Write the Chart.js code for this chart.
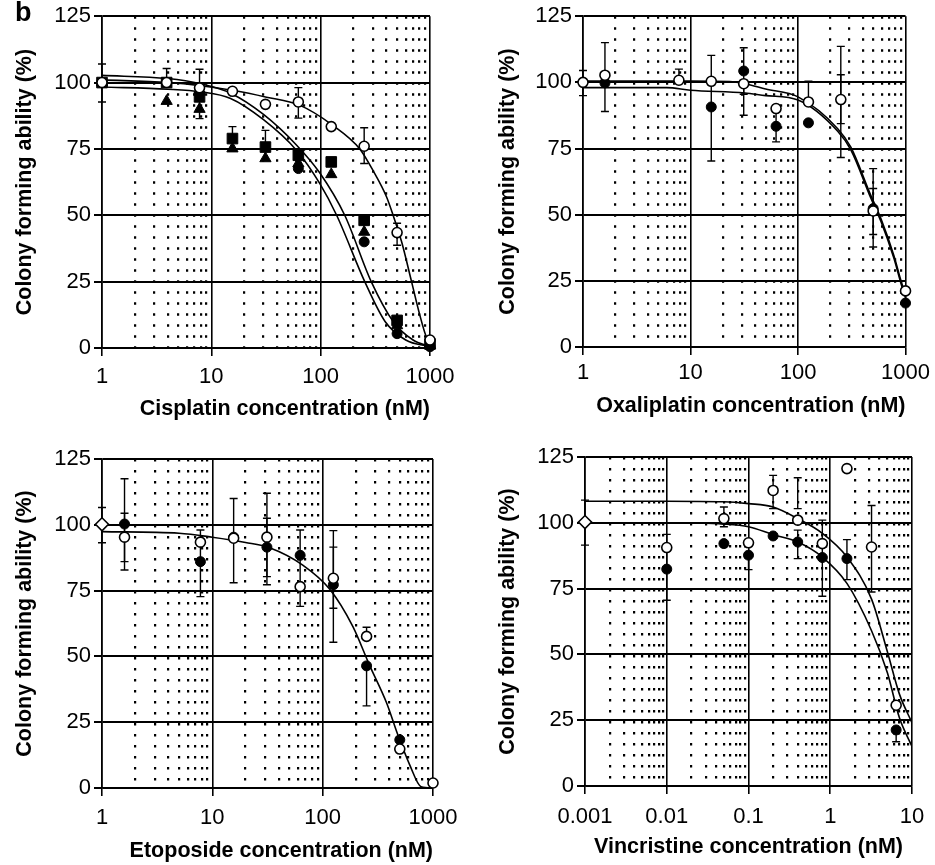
<!DOCTYPE html>
<html>
<head>
<meta charset="utf-8">
<script src="https://cdn.jsdelivr.net/npm/chart.js@4.4.1/dist/chart.umd.min.js"></script>
<style>
  body { margin: 0; background: #fff; }
  #wrap { position: relative; width: 935px; height: 865px; background: #fff; }
  canvas { position: absolute; }
  #tag { position: absolute; left: 15px; top: -3px; font: bold 27px "Liberation Sans", Arial, sans-serif; }
</style>
</head>
<body>
<div id="wrap">
  <canvas id="cis" width="467" height="430" style="left:0;top:0"></canvas>
  <canvas id="oxa" width="468" height="430" style="left:467px;top:0"></canvas>
  <canvas id="eto" width="467" height="435" style="left:0;top:430px"></canvas>
  <canvas id="vin" width="468" height="435" style="left:467px;top:430px"></canvas>
  <div id="tag">b</div>
</div>
<script>
// y axis, shared
const yTicks = [0, 25, 50, 75, 100, 125];

// Cisplatin
const cisDecades = [1, 10, 100, 1000];
const cisLabels = ['1', '10', '100', '1000'];
const cisDose = [1, 3.9, 7.8, 15.6, 31.25, 62.5, 125, 250, 500, 1000];
const cisOpen = [100, 100, 98, 96.7, 91.8, 92.7, 83.4, 76, 43.5, 3];
const cisSquare = [100, 100, 94.6, 78.9, 75.7, 72.6, 70.1, 48.1, 10.4, 1.5];
const cisTriangle = [100, 93, 90, 75.1, 71.4, 69.5, 65.4, 43.7, 8.5, 1];
const cisFilled = [100, 100, 96, null, null, 67.6, null, 40, 5.4, 0.5];
const cisErrors = [[1, 92.7, 107], [3.9, 100, 105.3], [7.8, 86.4, 105], [15.6, 78.9, 83.4],
  [31.25, 75.7, 82], [62.5, 86.6, 98.1], [250, 69.5, 83], [500, 38.7, 47]];
const cisFitADose = [1, 4, 8, 16, 32, 64, 128, 228, 300, 400, 460, 550, 678, 800, 930, 1000];
const cisFitA = [101, 100, 98.8, 97, 94.5, 91.5, 84, 75, 67, 57, 50, 40, 25, 13, 4, 2.5];
const cisFitBDose = [1, 4, 8, 15, 30, 60, 98, 166, 290, 460, 700, 1000];
const cisFitB = [102.7, 101.5, 99.5, 96, 88, 76.5, 66, 50, 25, 10, 3, 0.5];
const cisFitCDose = [1, 4, 8, 15, 30, 60, 98, 140, 253, 388, 600, 1000];
const cisFitC = [98.3, 97.5, 96.5, 94, 86, 74.5, 62, 50, 25, 10, 3, 0.5];

// Oxaliplatin
const oxaDose = [1, 1.6, 7.8, 15.6, 31.25, 62.5, 125, 250, 500, 1000];
const oxaOpen = [100, 102.7, 100.8, 100.4, 99.5, 90.1, 92.6, 93.5, 51.4, 21.2];
const oxaFilled = [null, 99.8, null, 90.7, 104.3, 83.4, 84.7, null, 52.3, 16.6];
const oxaErrors = [[1, 95, 104.5], [1.6, 89, 115], [7.8, 100.8, 105], [15.6, 70.3, 110.2],
  [31.25, 95.5, 113.1], [31.25, 87.6, 99.5], [62.5, 77.5, 90], [125, 92.6, 100.4],
  [250, 71.6, 113.6], [250, 84.4, 102.9], [500, 37.8, 67.4], [500, 42.5, 59.9]];
const oxaFitADose = [1, 10, 23, 32, 50, 100, 234, 310, 473, 590, 780, 900, 1000];
const oxaFitA = [100.5, 100.5, 100.3, 99.5, 97.5, 94.5, 82.5, 75.5, 57.5, 48.5, 34.5, 25.5, 19.5];
const oxaFitBDose = [1, 6, 10, 32, 50, 100, 234, 310, 473, 590, 780, 900, 1000];
const oxaFitB = [98, 98, 97, 96, 95, 93.3, 81.5, 74.5, 56.5, 47.5, 33.5, 24.5, 18.5];

// Etoposide
const etoDose = [1, 1.6, 7.8, 15.6, 31.25, 62.5, 125, 250, 500, 1000];
const etoOpen = [100.2, 95.3, 93.4, 94.9, 95.3, 76.5, 79.7, 57.6, 14.8, 1.9];
const etoFilled = [null, 100.3, 86, 95.3, 91.5, 88.4, 77.2, 46.4, 18.3, null];
const etoErrors = [[1, 93.2, 106.6], [1.6, 82.8, 117.5], [1.6, 86, 104.4], [7.8, 72.7, 98],
  [15.6, 78, 110], [31.25, 77.2, 112], [31.25, 80.3, 102.5], [62.5, 69, 98],
  [125, 55.4, 97.8], [125, 68.3, 91.5], [250, 57.6, 61.1], [250, 31.2, 46.4]];
const etoFitDose = [1, 5, 10, 20, 33, 66, 116, 188, 265, 380, 480, 615, 780, 1000];
const etoFit = [97.4, 96.8, 95.3, 93.3, 91.3, 84.7, 75.5, 61.3, 46.8, 32.3, 20.2, 8.8, 0.5, 0];

// Vincristine
const vinDecades = [0.001, 0.01, 0.1, 1, 10];
const vinLabels = ['0.001', '0.01', '0.1', '1', '10'];
const vinDose = [0.001, 0.01, 0.05, 0.1, 0.2, 0.4, 0.8, 1.6, 3.2, 6.4];
const vinOpen = [100.3, 90.6, 101.6, 92.4, 112.3, 101, 92.1, 120.6, 90.8, 30.7];
const vinFilled = [null, 82.4, 92.1, 87.7, 95, 92.7, 86.8, 86.4, null, 21.3];
const vinErrors = [[0.001, 91.5, 108.6], [0.01, 70.6, 95.6], [0.05, 98.5, 106], [0.1, 82.2, 87.7],
  [0.2, 105.4, 118], [0.4, 105.4, 117.1], [0.4, 86.4, 97.2], [0.8, 72.1, 101],
  [1.6, 78.4, 93.6], [3.2, 73.7, 106.6], [6.4, 16.8, 21.3]];
const vinFitDose = [0.001, 0.01, 0.05, 0.1, 0.2, 0.4, 0.8, 1.6, 3.2, 5, 7, 10];
const vinFitA = [108.2, 108.2, 108, 107.3, 106, 101.6, 96, 87, 71, 51, 35, 24];
const vinFitB = [100, 100, 99.5, 98.5, 95.5, 92.7, 87, 77, 59, 43, 26, 15];

Chart.defaults.font.family = '"Liberation Sans", Arial, sans-serif';
Chart.defaults.color = '#000';

function pts(xs, ys) {
  return xs.map((x, i) => ({ x: x, y: ys[i] })).filter(p => p.y !== null);
}

function isDecade(v) {
  if (v === undefined || v === null) return true;
  const l = Math.log10(v);
  return Math.abs(l - Math.round(l)) < 1e-6;
}

// 1..9 steps inside every decade
function logTicks(decades) {
  const out = [];
  for (let i = 0; i < decades.length - 1; i++) {
    for (let k = 1; k <= 9; k++) out.push(Number((k * decades[i]).toPrecision(6)));
  }
  out.push(decades[decades.length - 1]);
  return out;
}

// simple error bars drawn through the chart scales
const errorBarPlugin = {
  id: 'errorBars',
  beforeDatasetsDraw(chart, args, opts) {
    const { ctx, scales } = chart;
    ctx.save();
    ctx.strokeStyle = '#000';
    ctx.lineWidth = 1.4;
    (opts.bars || []).forEach(b => {
      const px = scales.x.getPixelForValue(b[0]);
      const a = scales.y.getPixelForValue(b[1]);
      const c = scales.y.getPixelForValue(b[2]);
      ctx.beginPath();
      ctx.moveTo(px, a); ctx.lineTo(px, c);
      ctx.moveTo(px - 4, a); ctx.lineTo(px + 4, a);
      ctx.moveTo(px - 4, c); ctx.lineTo(px + 4, c);
      ctx.stroke();
    });
    ctx.restore();
  }
};

const openStyle = { pointStyle: 'circle', pointRadius: 5, pointBackgroundColor: '#fff', pointBorderColor: '#000', pointBorderWidth: 1.6 };
const filledStyle = { pointStyle: 'circle', pointRadius: 5, pointBackgroundColor: '#000', pointBorderColor: '#000', pointBorderWidth: 1 };
const squareStyle = { pointStyle: 'rect', pointRadius: 7.5, pointBackgroundColor: '#000', pointBorderColor: '#000', pointBorderWidth: 1 };
const triStyle = { pointStyle: 'triangle', pointRadius: 6.5, pointBackgroundColor: '#000', pointBorderColor: '#000', pointBorderWidth: 1 };

function curve(xs, ys) {
  return { data: pts(xs, ys), showLine: true, pointRadius: 0, borderColor: '#000', borderWidth: 1.6,
    cubicInterpolationMode: 'monotone', fill: false };
}

function marks(xs, ys, style) {
  return Object.assign({ data: pts(xs, ys), showLine: false, clip: false }, style);
}

function makePanel(id, p) {
  const ticks = logTicks(p.decades);
  new Chart(document.getElementById(id), {
    type: 'scatter',
    data: { datasets: p.datasets },
    options: {
      responsive: false,
      animation: false,
      layout: { padding: { left: 0, top: p.top, right: p.right, bottom: 0 } },
      plugins: { legend: { display: false }, tooltip: { enabled: false }, errorBars: { bars: p.errors } },
      scales: {
        x: {
          type: 'logarithmic',
          min: p.decades[0],
          max: p.decades[p.decades.length - 1],
          afterBuildTicks: s => { s.ticks = ticks.map(v => ({ value: v })); },
          afterFit: s => { s.height = p.xAxisH; },
          ticks: {
            autoSkip: false, maxRotation: 0, padding: p.xTickPad,
            font: { size: 22 }, color: '#000',
            callback: v => {
              const i = p.decades.findIndex(d => Math.abs(Math.log10(d) - Math.log10(v)) < 1e-6);
              return i >= 0 ? p.labels[i] : '';
            }
          },
          grid: {
            color: '#000',
            lineWidth: c => isDecade(c.tick && c.tick.value) ? 1.6 : 2.2,
            tickLength: 8,
            tickColor: c => isDecade(c.tick && c.tick.value) ? '#000' : 'rgba(0,0,0,0)'
          },
          border: {
            color: '#000', width: 1.6,
            dash: c => (c.tick && !isDecade(c.tick.value)) ? [2.5, 8.5] : []
          },
          title: {
            display: true, text: p.xTitle, align: p.xTitleAlign,
            font: { size: 21.5, weight: 'bold' }, color: '#000',
            padding: { top: 0, bottom: p.xTitlePad }
          }
        },
        y: {
          min: 0, max: 125,
          afterBuildTicks: s => { s.ticks = yTicks.map(v => ({ value: v })); },
          afterFit: s => { s.width = p.yAxisW; },
          ticks: { font: { size: 22 }, color: '#000', padding: 3 },
          grid: { color: '#000', lineWidth: 2, tickLength: 8, tickColor: '#000' },
          border: { color: '#000', width: 1.6 },
          title: {
            display: true, text: 'Colony forming ability (%)',
            font: { size: 21.5, weight: 'bold' }, color: '#000',
            padding: { top: p.yTitlePad, bottom: 0 }
          }
        }
      }
    },
    plugins: [errorBarPlugin]
  });
}

makePanel('cis', {
  decades: cisDecades, labels: cisLabels, errors: cisErrors,
  xTitle: 'Cisplatin concentration (nM)', xTitleAlign: 'end',
  top: 16, right: 37, yAxisW: 102, xAxisH: 82, xTickPad: 8, xTitlePad: 8, yTitlePad: 12,
  datasets: [
    marks(cisDose, cisOpen, openStyle),
    marks(cisDose, cisTriangle, triStyle),
    marks(cisDose, cisSquare, squareStyle),
    marks(cisDose, cisFilled, filledStyle),
    curve(cisFitADose, cisFitA),
    curve(cisFitBDose, cisFitB),
    curve(cisFitCDose, cisFitC)
  ]
});

makePanel('oxa', {
  decades: cisDecades, labels: cisLabels, errors: oxaErrors,
  xTitle: 'Oxaliplatin concentration (nM)', xTitleAlign: 'end',
  top: 16, right: 27, yAxisW: 116, xAxisH: 83, xTickPad: 5, xTitlePad: 11, yTitlePad: 28,
  datasets: [
    marks(oxaDose, oxaOpen, openStyle),
    marks(oxaDose, oxaFilled, filledStyle),
    curve(oxaFitADose, oxaFitA),
    curve(oxaFitBDose, oxaFitB)
  ]
});

makePanel('eto', {
  decades: cisDecades, labels: cisLabels, errors: etoErrors,
  xTitle: 'Etoposide concentration (nM)', xTitleAlign: 'end',
  top: 29, right: 34, yAxisW: 102, xAxisH: 77, xTickPad: 9, xTitlePad: 1, yTitlePad: 12,
  datasets: [
    marks(etoDose, etoOpen, Object.assign({}, openStyle, { pointStyle: etoDose.map((d, i) => i === 0 ? 'rectRot' : 'circle'), pointRadius: etoDose.map((d, i) => i === 0 ? 6.5 : 5) })),
    marks(etoDose, etoFilled, filledStyle),
    curve(etoFitDose, etoFit)
  ]
});

makePanel('vin', {
  decades: vinDecades, labels: vinLabels, errors: vinErrors,
  xTitle: 'Vincristine concentration (nM)', xTitleAlign: 'center',
  top: 27, right: 23, yAxisW: 118, xAxisH: 79, xTickPad: 10, xTitlePad: 5, yTitlePad: 28,
  datasets: [
    marks(vinDose, vinOpen, Object.assign({}, openStyle, { pointStyle: vinDose.map((d, i) => i === 0 ? 'rectRot' : 'circle'), pointRadius: vinDose.map((d, i) => i === 0 ? 6.5 : 5) })),
    marks(vinDose, vinFilled, filledStyle),
    curve(vinFitDose, vinFitA),
    curve(vinFitDose, vinFitB)
  ]
});
</script>
</body>
</html>
